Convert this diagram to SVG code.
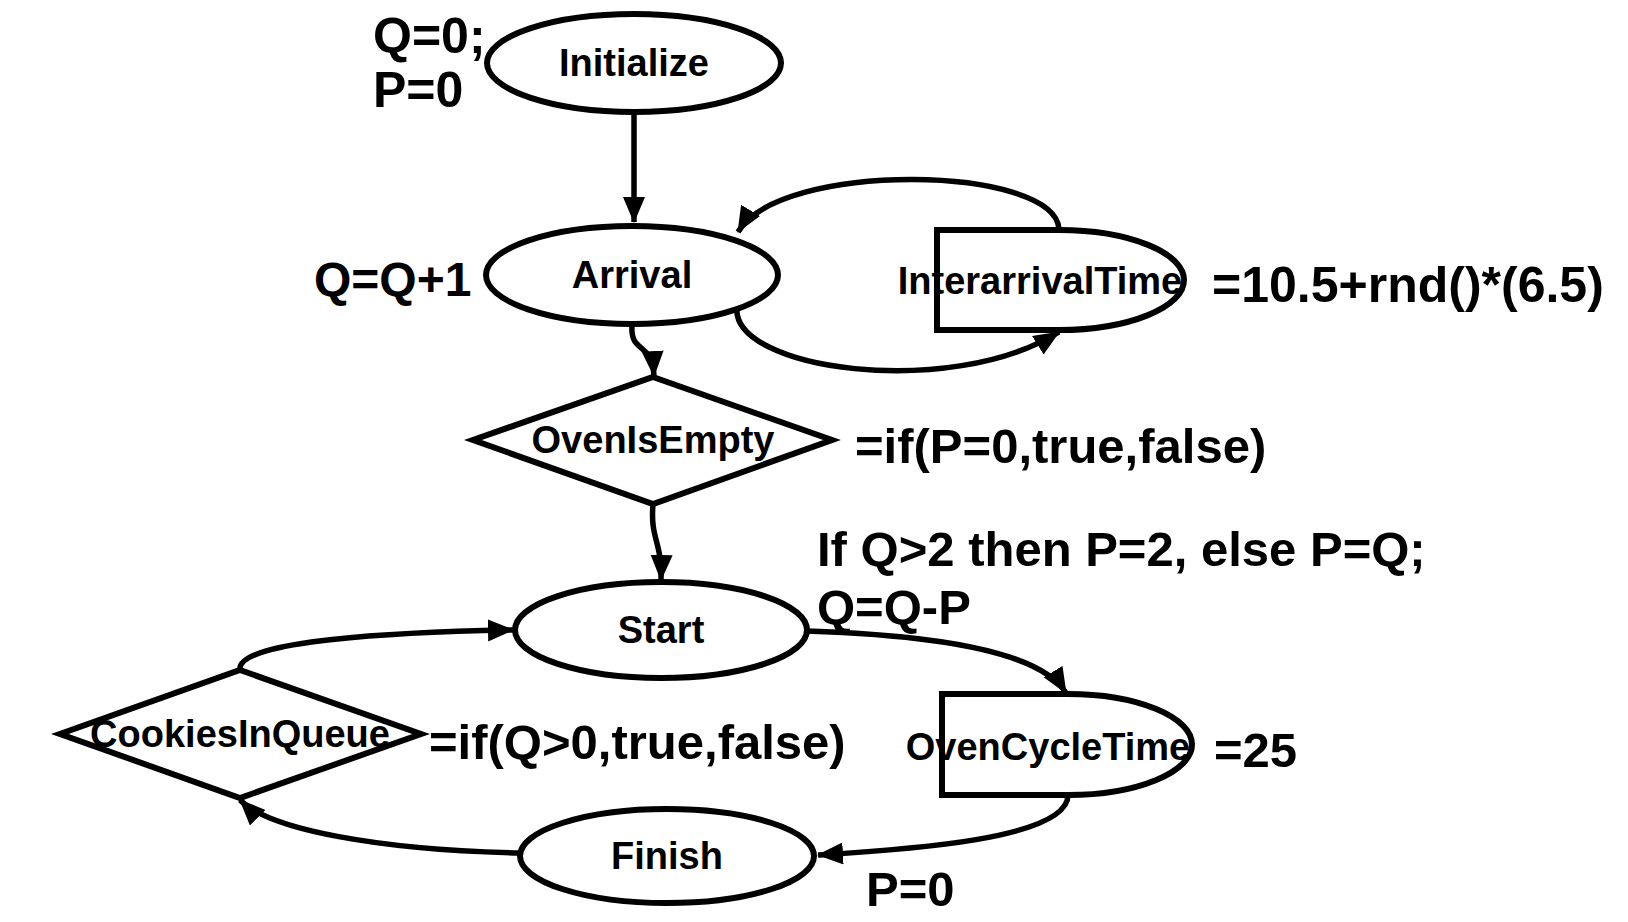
<svg xmlns="http://www.w3.org/2000/svg" width="1628" height="922" viewBox="0 0 1628 922">
<style>
.n{fill:#fff;stroke:#000;stroke-width:6}
.c{fill:none;stroke:#000;stroke-width:5.5}
.l{font-family:"Liberation Sans",Arial,sans-serif;font-weight:bold;font-size:38px;text-anchor:middle;fill:#000}
.a{font-family:"Liberation Sans",Arial,sans-serif;font-weight:bold;font-size:49px;fill:#000}
</style>
<defs>
<marker id="ah" markerUnits="userSpaceOnUse" markerWidth="28" markerHeight="24" refX="25" refY="11" orient="auto">
<path d="M0,0 L26,11 L0,22 Z" fill="#000"/>
</marker>
</defs>
<rect width="1628" height="922" fill="#fff"/>
<g id="connectors">
<path class="c" d="M634,112 L634,222" marker-end="url(#ah)"/>
<path class="c" d="M1059,229 C1055,165 780,160 738,232" marker-end="url(#ah)"/>
<path class="c" d="M737,307 C730,370 950,400 1059,332" marker-end="url(#ah)"/>
<path class="c" d="M632,325 C630,355 652,340 654,376" marker-end="url(#ah)"/>
<path class="c" d="M653,504 C650,540 662,540 661,580" marker-end="url(#ah)"/>
<path class="c" d="M807,631 C930,635 1040,650 1066,693" marker-end="url(#ah)"/>
<path class="c" d="M1068,795 C1068,840 900,850 818,855" marker-end="url(#ah)"/>
<path class="c" d="M520,853 C380,850 270,830 240,800" marker-end="url(#ah)"/>
<path class="c" d="M240,670 C235,640 400,632 513,630" marker-end="url(#ah)"/>
</g>
<g id="initialize">
<ellipse class="n" cx="634" cy="63" rx="147" ry="49"/>
<text class="l" x="634" y="76">Initialize</text>
</g>
<g id="arrival">
<ellipse class="n" cx="632" cy="275" rx="146" ry="49"/>
<text class="l" x="632" y="288">Arrival</text>
</g>
<g id="interarrivalTime">
<path class="n" d="M937,230 H1059 A125,50 0 0 1 1059,330 H937 Z"/>
<text class="l" x="1040" y="294">InterarrivalTime</text>
</g>
<g id="ovenIsEmpty">
<path class="n" d="M653,377 L832,440 L653,504 L473,440 Z"/>
<text class="l" x="653" y="453">OvenIsEmpty</text>
</g>
<g id="start">
<ellipse class="n" cx="661" cy="630" rx="146" ry="48"/>
<text class="l" x="661" y="643">Start</text>
</g>
<g id="ovenCycleTime">
<path class="n" d="M942,694 H1068 A124,50.5 0 0 1 1068,795 H942 Z"/>
<text class="l" x="1048" y="760">OvenCycleTime</text>
</g>
<g id="finish">
<ellipse class="n" cx="667" cy="856" rx="147" ry="47"/>
<text class="l" x="667" y="869">Finish</text>
</g>
<g id="cookiesInQueue">
<path class="n" d="M240,670 L421,734 L240,798 L60,734 Z"/>
<text class="l" x="240" y="747">CookiesInQueue</text>
</g>
<g id="annotations">
<text class="a" x="373" y="53" style="font-size:50px">Q=0;</text>
<text class="a" x="373" y="107" style="font-size:50px">P=0</text>
<text class="a" x="314" y="296" style="font-size:48px">Q=Q+1</text>
<text class="a" x="1212" y="302" style="font-size:50px">=10.5+rnd()*(6.5)</text>
<text class="a" x="855" y="463">=if(P=0,true,false)</text>
<text class="a" x="817" y="566">If Q&gt;2 then P=2, else P=Q;</text>
<text class="a" x="817" y="624">Q=Q-P</text>
<text class="a" x="429" y="759">=if(Q&gt;0,true,false)</text>
<text class="a" x="1214" y="767">=25</text>
<text class="a" x="866" y="906">P=0</text>
</g>
</svg>
